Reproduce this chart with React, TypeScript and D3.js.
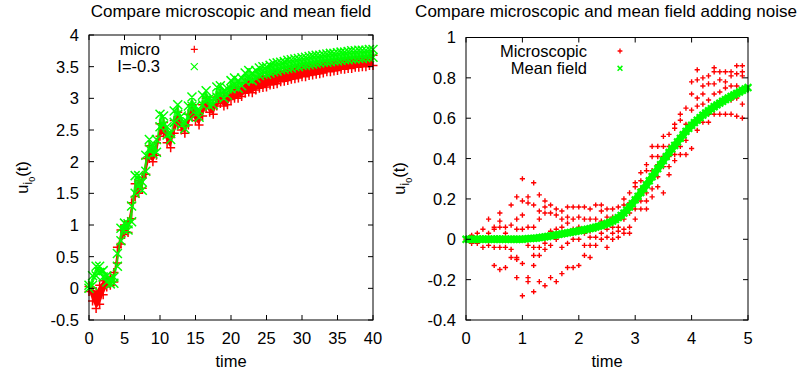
import React from "react"
import * as d3 from "d3"

const W = 797
const H = 374
const FONT = "'Liberation Sans', Arial, Helvetica, sans-serif"
const FS = 16.5
const FT = 17
const RED = "#ff0000"
const GREEN = "#00ff00"

// ---- left panel: u_i0(t), t = 0..40 every 0.5
const timesA = d3.range(0, 40.001, 0.5)

const microLo = [
  -0.05, -0.2, -0.32, -0.25, -0.1, 0.02, 0.05, 0.1, 0.4, 0.7,
  0.85, 0.88, 1.1, 1.45, 1.5, 1.58, 1.8, 2.05, 2.0, 2.1,
  2.4, 2.45, 2.3, 2.22, 2.45, 2.6, 2.5, 2.45, 2.58, 2.72,
  2.65, 2.58, 2.72, 2.85, 2.78, 2.75, 2.88, 2.92, 2.88, 2.9,
  2.98, 3.0, 3.0, 3.03, 3.08, 3.1, 3.09, 3.13, 3.16, 3.17,
  3.18, 3.21, 3.22, 3.23, 3.26, 3.27, 3.28, 3.3, 3.31, 3.32,
  3.34, 3.34, 3.36, 3.37, 3.38, 3.39, 3.4, 3.42, 3.42, 3.43,
  3.44, 3.46, 3.46, 3.47, 3.47, 3.49, 3.49, 3.5, 3.5, 3.52, 3.52,
]
const microHi = [
  0.03, 0.0, -0.05, 0.05, 0.12, 0.15, 0.18, 0.25, 0.65, 0.92,
  1.0, 1.05, 1.35, 1.65, 1.7, 1.75, 2.05, 2.25, 2.2, 2.3,
  2.6, 2.62, 2.45, 2.38, 2.65, 2.78, 2.62, 2.58, 2.75, 2.9,
  2.8, 2.72, 2.9, 3.0, 2.92, 2.88, 3.02, 3.08, 3.02, 3.05,
  3.15, 3.18, 3.15, 3.18, 3.25, 3.28, 3.26, 3.3, 3.33, 3.35,
  3.36, 3.38, 3.4, 3.42, 3.43, 3.44, 3.46, 3.47, 3.48, 3.5,
  3.51, 3.52, 3.53, 3.54, 3.55, 3.56, 3.57, 3.58, 3.59, 3.6,
  3.6, 3.61, 3.62, 3.63, 3.64, 3.65, 3.65, 3.66, 3.67, 3.67, 3.68,
]
const meanLo = [
  0.0, 0.05, 0.2, 0.25, 0.18, 0.1, 0.07, 0.08, 0.35, 0.75,
  0.92, 0.92, 1.05, 1.5, 1.62, 1.55, 1.85, 2.2, 2.12, 2.15,
  2.55, 2.58, 2.42, 2.35, 2.62, 2.75, 2.58, 2.52, 2.7, 2.88,
  2.75, 2.7, 2.9, 2.98, 2.88, 2.9, 3.02, 3.05, 3.0, 3.05,
  3.15, 3.18, 3.16, 3.2, 3.27, 3.3, 3.28, 3.32, 3.36, 3.38,
  3.38, 3.4, 3.42, 3.43, 3.45, 3.46, 3.47, 3.48, 3.5, 3.5,
  3.52, 3.52, 3.53, 3.54, 3.55, 3.56, 3.57, 3.57, 3.58, 3.59,
  3.59, 3.6, 3.61, 3.61, 3.62, 3.62, 3.63, 3.63, 3.64, 3.64, 3.65,
]
const meanHi = [
  0.05, 0.2, 0.35, 0.35, 0.28, 0.2, 0.16, 0.18, 0.55, 0.95,
  1.03, 1.02, 1.3, 1.78, 1.78, 1.68, 2.1, 2.35, 2.25, 2.35,
  2.75, 2.72, 2.55, 2.45, 2.8, 2.9, 2.72, 2.62, 2.88, 3.02,
  2.88, 2.8, 3.05, 3.12, 3.0, 3.0, 3.18, 3.2, 3.12, 3.15,
  3.28, 3.32, 3.28, 3.32, 3.4, 3.44, 3.4, 3.44, 3.48, 3.5,
  3.5, 3.52, 3.55, 3.56, 3.57, 3.58, 3.6, 3.61, 3.62, 3.63,
  3.64, 3.65, 3.66, 3.67, 3.68, 3.68, 3.69, 3.7, 3.71, 3.71,
  3.72, 3.73, 3.73, 3.74, 3.75, 3.75, 3.76, 3.76, 3.76, 3.77, 3.77,
]
const xTicksA = [0, 5, 10, 15, 20, 25, 30, 35, 40]
const yTicksA = [-0.5, 0, 0.5, 1, 1.5, 2, 2.5, 3, 3.5, 4]

// ---- right panel: with noise, t = 0..5
const timesB = d3.range(0, 5.001, 0.05)
const meanNoise = [
  0, 0, 0, 0, 0, 0, 0, 0, 0, 0, 0, 0, 0, 0, 0, 0, 0, 0, 0, 0, 0,
  0.002, 0.003, 0.004, 0.005, 0.006, 0.008, 0.01, 0.012, 0.014, 0.017,
  0.019, 0.022, 0.024, 0.027, 0.029, 0.032, 0.034, 0.037, 0.039, 0.042,
  0.044, 0.047, 0.05, 0.053, 0.056, 0.06, 0.064, 0.068, 0.073, 0.078,
  0.084, 0.09, 0.098, 0.107, 0.118, 0.13, 0.144, 0.16, 0.177, 0.195,
  0.213, 0.232, 0.251, 0.27, 0.29, 0.31, 0.33, 0.35, 0.37, 0.39,
  0.41, 0.43, 0.448, 0.465, 0.483, 0.5, 0.518, 0.535, 0.55, 0.565,
  0.578, 0.59, 0.603, 0.615, 0.626, 0.637, 0.647, 0.657, 0.666, 0.675,
  0.684, 0.692, 0.7, 0.708, 0.716, 0.723, 0.73, 0.738, 0.745, 0.752,
]
const noiseTimes = d3.range(0, 4.95, 0.1)
const noiseValues = [
  [0.0],
  [0.02, -0.02],
  [0.03, -0.02],
  [0.05, -0.04],
  [0.1, 0.03, -0.03],
  [0.06, 0.05, -0.04, -0.13],
  [0.13, 0.09, 0.06, -0.04, -0.15],
  [0.06, 0.03, -0.04, -0.14],
  [0.17, 0.07, 0.0, -0.05, -0.09],
  [0.21, 0.1, 0.05, -0.09, -0.1, -0.19],
  [0.3, 0.19, 0.12, 0.05, 0.0, -0.12, -0.28],
  [0.21, 0.18, 0.06, -0.03, -0.19, -0.21],
  [0.28, 0.17, 0.06, -0.04, -0.08, -0.13, -0.26],
  [0.22, 0.14, 0.1, -0.04, -0.08, -0.21],
  [0.19, 0.16, 0.13, -0.02, -0.05, -0.23],
  [0.17, 0.13, 0.04, -0.03, -0.19],
  [0.15, 0.12, 0.05, 0.0, -0.21],
  [0.14, 0.1, 0.06, -0.04, -0.17],
  [0.16, 0.11, 0.08, 0.03, -0.02, -0.14],
  [0.16, 0.1, 0.05, 0.0, -0.14],
  [0.16, 0.11, 0.06, 0.0, -0.13],
  [0.16, 0.1, 0.03, -0.03, -0.08],
  [0.15, 0.1, 0.04, 0.01, -0.03, -0.09],
  [0.17, 0.1, 0.05, 0.01, -0.03],
  [0.17, 0.14, 0.09, 0.03, 0.0],
  [0.15, 0.11, 0.05, 0.01, -0.04],
  [0.15, 0.11, 0.06, 0.03, 0.0],
  [0.16, 0.11, 0.06, 0.04, 0.01],
  [0.2, 0.17, 0.1, 0.05, 0.03],
  [0.23, 0.18, 0.13, 0.06, 0.03],
  [0.28, 0.26, 0.19, 0.15, 0.1],
  [0.33, 0.29, 0.25, 0.19, 0.15],
  [0.37, 0.34, 0.26, 0.23, 0.19, 0.15],
  [0.46, 0.41, 0.34, 0.3, 0.25, 0.21],
  [0.46, 0.41, 0.37, 0.31, 0.26],
  [0.51, 0.46, 0.41, 0.36, 0.23],
  [0.52, 0.46, 0.41, 0.36, 0.32],
  [0.57, 0.55, 0.46, 0.42, 0.39],
  [0.62, 0.59, 0.51, 0.46, 0.42],
  [0.65, 0.57, 0.53, 0.49, 0.42],
  [0.78, 0.72, 0.64, 0.56, 0.45],
  [0.84, 0.79, 0.7, 0.66, 0.54],
  [0.8, 0.76, 0.72, 0.67, 0.58],
  [0.81, 0.77, 0.69, 0.62, 0.58],
  [0.85, 0.83, 0.77, 0.72, 0.62],
  [0.83, 0.79, 0.73, 0.68, 0.62],
  [0.83, 0.78, 0.75, 0.7, 0.62],
  [0.83, 0.81, 0.76, 0.69, 0.62],
  [0.86, 0.82, 0.76, 0.7, 0.61],
  [0.86, 0.83, 0.81, 0.67, 0.6],
]
const xTicksB = [0, 1, 2, 3, 4, 5]
const yTicksB = [-0.4, -0.2, 0, 0.2, 0.4, 0.6, 0.8, 1]

type Box = { left: number; right: number; top: number; bottom: number }
const boxA: Box = { left: 89, right: 373, top: 35, bottom: 320 }
const boxB: Box = { left: 466, right: 748, top: 37.5, bottom: 320 }

function plus(x: number, y: number, s: number) {
  return `M${x - s},${y}H${x + s}M${x},${y - s}V${y + s}`
}
function cross(x: number, y: number, s: number) {
  return `M${x - s},${y - s}L${x + s},${y + s}M${x - s},${y + s}L${x + s},${y - s}`
}

function Frame({ box, x, y, xTicks, yTicks, fmtY }: {
  box: Box
  x: d3.ScaleLinear<number, number>
  y: d3.ScaleLinear<number, number>
  xTicks: number[]
  yTicks: number[]
  fmtY: (v: number) => string
}) {
  const tl = 5
  return (
    <g>
      {xTicks.map((t) => (
        <g key={"x" + t}>
          <line x1={x(t)} x2={x(t)} y1={box.bottom} y2={box.bottom - tl} stroke="#000" />
          <line x1={x(t)} x2={x(t)} y1={box.top} y2={box.top + tl} stroke="#000" />
          <text x={x(t)} y={343.5} textAnchor="middle" fontSize={FS}>{String(t)}</text>
        </g>
      ))}
      {yTicks.map((t) => (
        <g key={"y" + t}>
          <line x1={box.left} x2={box.left + tl} y1={y(t)} y2={y(t)} stroke="#000" />
          <line x1={box.right} x2={box.right - tl} y1={y(t)} y2={y(t)} stroke="#000" />
          <text x={box.left - 10} y={y(t)} dy="0.36em" textAnchor="end" fontSize={FS}>{fmtY(t)}</text>
        </g>
      ))}
      <rect x={box.left} y={box.top} width={box.right - box.left} height={box.bottom - box.top}
        fill="none" stroke="#000" strokeWidth={1} />
    </g>
  )
}

function YLabel({ x, y }: { x: number; y: number }) {
  return (
    <text transform={`translate(${x},${y}) rotate(-90)`} textAnchor="middle" fontSize={FS}>
      u<tspan fontSize={12} dy={4}>i</tspan><tspan fontSize={9} dy={3}>0</tspan>
      <tspan fontSize={FS} dy={-7}>(t)</tspan>
    </text>
  )
}

export default function App() {
  const xA = d3.scaleLinear().domain([0, 40]).range([boxA.left, boxA.right])
  const yA = d3.scaleLinear().domain([-0.5, 4]).range([boxA.bottom, boxA.top])
  const xB = d3.scaleLinear().domain([0, 5]).range([boxB.left, boxB.right])
  const yB = d3.scaleLinear().domain([-0.4, 1]).range([boxB.bottom, boxB.top])

  const band = (lo: number[], hi: number[]) =>
    d3.area<number>()
      .x((t) => xA(t))
      .y0((_, i) => yA(lo[i]))
      .y1((_, i) => yA(hi[i]))(timesA) ?? ""

  const markA = (vals: number[], fn: typeof plus) =>
    timesA.map((t, i) => fn(xA(t), yA(vals[i]), 4.5)).join("")

  const microPath = markA(microLo, plus) + markA(microHi, plus)
  const meanPath = markA(meanLo, cross) + markA(meanHi, cross)

  const noisePath = noiseTimes
    .flatMap((t, i) => noiseValues[i].map((v) => plus(xB(t), yB(v), 2.6)))
    .join("")
  const meanNoisePath = timesB.map((t, i) => cross(xB(t), yB(meanNoise[i]), 3.4)).join("")
  const meanNoiseLine = d3.line<number>().x((t) => xB(t)).y((_, i) => yB(meanNoise[i]))(timesB) ?? ""

  return (
    <svg width={W} height={H} style={{ position: "absolute", left: 0, top: 0, background: "#fff" }}
      fontFamily={FONT}>
      {/* left panel */}
      <text x={231} y={16.5} textAnchor="middle" fontSize={FT}>Compare microscopic and mean field</text>
      <path d={band(microLo, microHi)} fill={RED} />
      <path d={microPath} stroke={RED} strokeWidth={1.5} fill="none" />
      <path d={band(meanLo, meanHi)} fill={GREEN} fillOpacity={0.85} />
      <path d={meanPath} stroke={GREEN} strokeWidth={1.5} fill="none" />
      <Frame box={boxA} x={xA} y={yA} xTicks={xTicksA} yTicks={yTicksA} fmtY={(v) => String(v)} />
      <text x={160} y={55} textAnchor="end" fontSize={FS}>micro</text>
      <path d={plus(194.3, 49.3, 3.5)} stroke={RED} strokeWidth={1.2} />
      <text x={160} y={72} textAnchor="end" fontSize={FS}>I=-0.3</text>
      <path d={cross(194.3, 66.7, 3.5)} stroke={GREEN} strokeWidth={1.2} />
      <text x={231} y={367} textAnchor="middle" fontSize={FS}>time</text>
      <YLabel x={28} y={177.5} />

      {/* right panel */}
      <text x={606} y={17} textAnchor="middle" fontSize={FT}>Compare microscopic and mean field adding noise</text>
      <path d={noisePath} stroke={RED} strokeWidth={1.4} fill="none" />
      <path d={meanNoiseLine} stroke={GREEN} strokeWidth={7} fill="none" />
      <path d={meanNoisePath} stroke={GREEN} strokeWidth={2.2} fill="none" />
      <Frame box={boxB} x={xB} y={yB} xTicks={xTicksB} yTicks={yTicksB} fmtY={(v) => String(+v.toFixed(1))} />
      <text x={587} y={57} textAnchor="end" fontSize={FS}>Microscopic</text>
      <path d={plus(620, 51, 2.4)} stroke={RED} strokeWidth={1.3} />
      <text x={587} y={74} textAnchor="end" fontSize={FS}>Mean field</text>
      <path d={cross(620, 68.3, 2.4)} stroke={GREEN} strokeWidth={1.5} />
      <text x={607} y={367} textAnchor="middle" fontSize={FS}>time</text>
      <YLabel x={405} y={178.5} />
    </svg>
  )
}
